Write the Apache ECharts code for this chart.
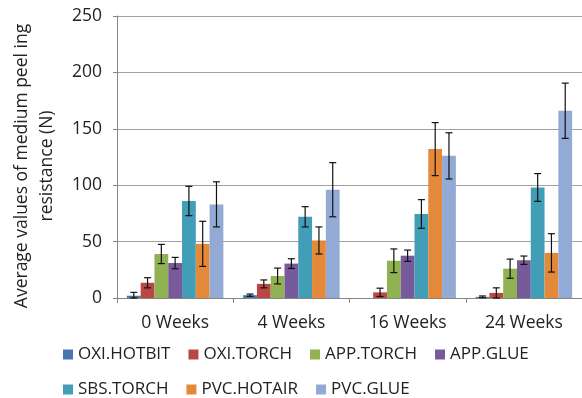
<!DOCTYPE html>
<html>
<head>
<meta charset="utf-8">
<script src="https://cdn.jsdelivr.net/npm/echarts@6.0.0/dist/echarts.min.js"></script>
<style>
  html, body { margin: 0; padding: 0; background: #fff; }
  #chart { width: 582px; height: 398px; }
</style>
</head>
<body>
<div id="chart"></div>
<script>
// categories and series (N)
const weeks = ['0 Weeks', '4 Weeks', '16 Weeks', '24 Weeks'];
const seriesNames = ['OXI.HOTBIT', 'OXI.TORCH', 'APP.TORCH', 'APP.GLUE', 'SBS.TORCH', 'PVC.HOTAIR', 'PVC.GLUE'];

const oxiHotbit = [2, 2.5, 0, 1];
const oxiTorch = [13.5, 12.5, 5, 4.5];
const appTorch = [39, 19.5, 33, 26];
const appGlue = [31, 30.5, 37.5, 33.5];
const sbsTorch = [86, 72, 74.5, 98];
const pvcHotair = [48, 51, 132, 40];
const pvcGlue = [83, 96, 126, 166];

// error bar half-heights
const oxiHotbitErr = [3, 1, 0, 0.8];
const oxiTorchErr = [4.5, 3.5, 3.7, 4.5];
const appTorchErr = [8.5, 7, 10.5, 8.5];
const appGlueErr = [5, 4.3, 5, 3.7];
const sbsTorchErr = [13, 9, 12.7, 12.3];
const pvcHotairErr = [20, 12, 23.5, 17];
const pvcGlueErr = [20, 24, 20.5, 24.5];

const yTicks = [0, 50, 100, 150, 200, 250];

const values = [oxiHotbit, oxiTorch, appTorch, appGlue, sbsTorch, pvcHotair, pvcGlue];
const errors = [oxiHotbitErr, oxiTorchErr, appTorchErr, appGlueErr, sbsTorchErr, pvcHotairErr, pvcGlueErr];
const colors = ['#4876b2', '#b94845', '#91b252', '#775a9a', '#429db7', '#e48839', '#93aad4'];

const FONT = '"Open Sans", sans-serif';
const catGap = 0.17;

const chart = echarts.init(document.getElementById('chart'));

const barSeries = seriesNames.map((name, i) => ({
  name: name,
  type: 'bar',
  data: values[i],
  barGap: '0%',
  barCategoryGap: (catGap * 100) + '%',
  itemStyle: { color: colors[i] }
}));

// error bars drawn on top of each bar
const errSeries = seriesNames.map((name, i) => ({
  name: 'err-' + name,
  type: 'custom',
  data: values[i].map((v, k) => [k, v, errors[i][k]]),
  encode: { x: 0, y: 1 },
  z: 5,
  renderItem: function (params, api) {
    const err = api.value(2);
    if (!err) return;
    const v = api.value(1);
    const c = api.coord([api.value(0), v]);
    const band = api.size([1, 0])[0];
    const bw = band * (1 - catGap) / seriesNames.length;
    const x = c[0] + (i - (seriesNames.length - 1) / 2) * bw;
    const top = api.coord([api.value(0), v + err])[1];
    const bot = api.coord([api.value(0), Math.max(v - err, 0)])[1];
    const cap = 3.5;
    const style = { stroke: '#111', lineWidth: 1.2 };
    return {
      type: 'group',
      children: [
        { type: 'line', shape: { x1: x, y1: top, x2: x, y2: bot }, style: style },
        { type: 'line', shape: { x1: x - cap, y1: top, x2: x + cap, y2: top }, style: style },
        { type: 'line', shape: { x1: x - cap, y1: bot, x2: x + cap, y2: bot }, style: style }
      ]
    };
  }
}));

const option = {
  animation: false,
  backgroundColor: '#fff',
  textStyle: { fontFamily: FONT },
  grid: { left: 117, right: -10, top: 16, bottom: 100, containLabel: false },
  legend: {
    data: seriesNames,
    left: 58,
    top: 341,
    width: 520,
    itemWidth: 10,
    itemHeight: 10,
    itemGap: 18,
    icon: 'rect',
    textStyle: { fontFamily: FONT, fontSize: 17, color: '#222', width: 90, overflow: 'none' }
  },
  xAxis: {
    type: 'category',
    data: weeks,
    axisLine: { lineStyle: { color: '#868686', width: 1 } },
    axisTick: { show: true, length: 5, lineStyle: { color: '#868686' } },
    axisLabel: { fontFamily: FONT, fontSize: 17.5, color: '#222', margin: 16 }
  },
  yAxis: {
    type: 'value',
    min: 0,
    max: 250,
    interval: 50,
    axisLine: { show: true, lineStyle: { color: '#868686', width: 1 } },
    axisTick: { show: true, length: 4, lineStyle: { color: '#868686' } },
    axisLabel: {
      fontFamily: FONT, fontSize: 17.5, color: '#222', margin: 15,
      formatter: v => (yTicks.includes(v) ? String(v) : '')
    },
    splitLine: { lineStyle: { color: '#a0a0a0', width: 1 } }
  },
  graphic: [{
    type: 'text',
    x: 35,
    y: 166,
    rotation: Math.PI / 2,
    style: {
      text: 'Average values of medium peel ing\nresistance (N)',
      font: '17.5px ' + FONT,
      fill: '#222',
      align: 'center',
      verticalAlign: 'middle',
      lineHeight: 25
    }
  }],
  series: barSeries.concat(errSeries)
};

chart.setOption(option);
</script>
</body>
</html>
